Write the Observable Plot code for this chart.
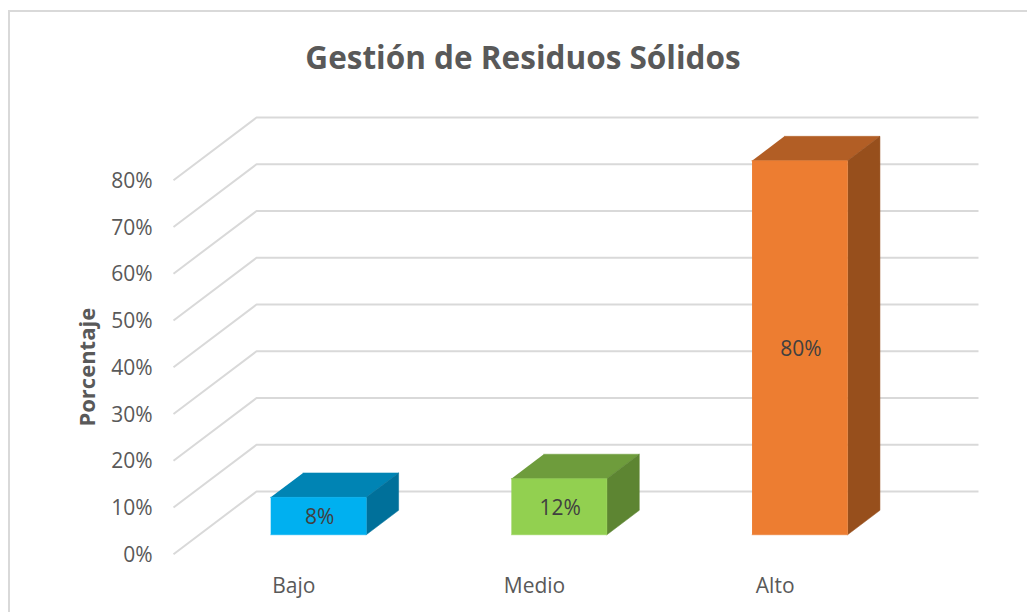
<!DOCTYPE html>
<html>
<head>
<meta charset="utf-8">
<script src="https://cdn.jsdelivr.net/npm/d3@7"></script>
<script src="https://cdn.jsdelivr.net/npm/@observablehq/plot@0.6"></script>
<style>
html,body{margin:0;padding:0;background:#fff;overflow:hidden}
#chart{position:relative;width:1027px;height:612px;overflow:hidden;font-family:"Open Sans",sans-serif}
#frame{position:absolute;left:8px;top:10px;width:1040px;height:640px;border:2px solid #d9d9d9;box-sizing:border-box}
#title{position:absolute;left:0;top:35px;width:1046px;text-align:center;font-size:31.5px;font-weight:700;color:#595959;line-height:44px}
#plot{position:absolute;left:0;top:90px}
#plot svg{overflow:visible}
</style>
</head>
<body>
<div id="chart">
<div id="frame"></div>
<div id="title">Gestión de Residuos Sólidos</div>
<div id="plot"></div>
</div>
<script>
const categories = ["Bajo", "Medio", "Alto"];
const values = [8, 12, 80];
const gridTicks = [0, 10, 20, 30, 40, 50, 60, 70, 80];
const frontColors = ["#00B0F0", "#92D050", "#ED7D31"];
const topColors = ["#0084B4", "#6E9C3C", "#B25E25"];
const sideColors = ["#00709A", "#5D8532", "#974F1C"];

// Oblique projection: a point (u along categories, d in depth 0..1, v in percent)
const depthU = 83 / 240.67;
const depthV = 13.41;
const px = (p) => p.u + p.d * depthU;
const py = (p) => p.v + p.d * depthV;

const barLeft = 0.297, barRight = 0.694, dFront = 0.31, dBack = 0.70;

const gridData = gridTicks.flatMap((t) => [
  {t, u: 0, d: 0, v: t},
  {t, u: 0, d: 1, v: t},
  {t, u: categories.length, d: 1, v: t}
]);

const face = (pts, fill) =>
  Plot.line(pts, {x: px, y: py, fill, stroke: fill, strokeWidth: 0.5, curve: "linear"});

const barMarks = categories.flatMap((c, i) => {
  const l = i + barLeft, r = i + barRight, h = values[i];
  return [
    face([{u: l, d: dFront, v: h}, {u: r, d: dFront, v: h}, {u: r, d: dBack, v: h}, {u: l, d: dBack, v: h}], topColors[i]),
    face([{u: r, d: dFront, v: 0}, {u: r, d: dBack, v: 0}, {u: r, d: dBack, v: h}, {u: r, d: dFront, v: h}], sideColors[i]),
    face([{u: l, d: dFront, v: 0}, {u: r, d: dFront, v: 0}, {u: r, d: dFront, v: h}, {u: l, d: dFront, v: h}], frontColors[i])
  ];
});

const labelData = categories.map((c, i) => ({u: i + 0.5, d: dFront, v: values[i] / 2, label: values[i] + "%"}));

const top0 = 90;
const chart = Plot.plot({
  width: 1027,
  height: 522,
  marginLeft: 173,
  marginRight: 1027 - 895,
  marginTop: 179.7 - top0,
  marginBottom: 522 - (553.7 - top0),
  style: {fontFamily: '"Open Sans",sans-serif', background: "transparent", overflow: "visible"},
  x: {domain: [0, categories.length], label: null},
  y: {domain: [0, 80], label: null},
  marks: [
    Plot.line(gridData, {x: px, y: py, z: "t", stroke: "#d9d9d9", strokeWidth: 2, strokeLinecap: "butt", strokeLinejoin: "miter"}),
    ...barMarks,
    Plot.text(labelData, {x: px, y: py, text: "label", fontSize: 21, dy: 1.5, fill: "#404040"}),
    Plot.axisY(gridTicks, {anchor: "left", tickSize: 0, tickPadding: 21, dy: 1, tickFormat: (d) => d + "%", fontSize: 21, color: "#595959", label: null}),
    Plot.axisX(categories.map((c, i) => i + 0.5), {anchor: "bottom", tickSize: 0, tickPadding: 24, tickFormat: (d) => categories[Math.floor(d)], fontSize: 21, color: "#595959", label: null}),
    Plot.text(["Porcentaje"], {frameAnchor: "left", textAnchor: "middle", y: [40], text: (d) => d, rotate: -90, dx: -86, fontSize: 22, fontWeight: 700, fill: "#595959"})
  ]
});
document.getElementById("plot").appendChild(chart);
</script>
</body>
</html>
